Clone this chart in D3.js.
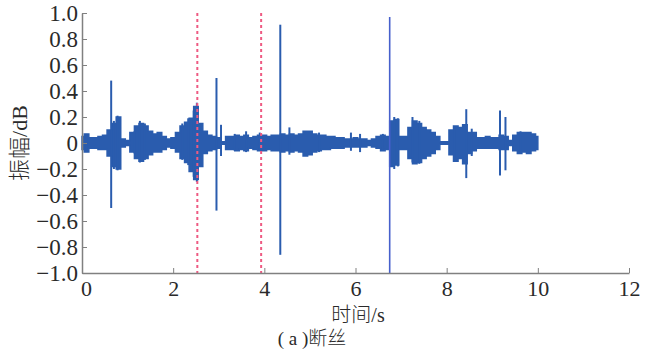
<!DOCTYPE html>
<html>
<head>
<meta charset="utf-8">
<script src="https://cdn.jsdelivr.net/npm/d3@7"></script>
<style>
  body { margin: 0; background: #fff; }
  .serif { font-family: "Liberation Serif", "Times New Roman", Tinos, "DejaVu Serif", serif; }
  .cjk { font-family: "Noto Sans CJK SC", "Noto Sans CJK JP", sans-serif; font-weight: 300; }
</style>
</head>
<body>
<div id="wrapper"></div>
<script>
const envTime = d3.range(0, 101).map(i => i / 10)
const envHigh = [
  0.05, 0.07, 0.04, 0.04, 0.05, 0.06, 0.10, 0.15, 0.20, 0.03,
  0.02, 0.08, 0.13, 0.15, 0.13, 0.09, 0.07, 0.08, 0.05, 0.03,
  0.04, 0.08, 0.13, 0.16, 0.19, 0.28, 0.15, 0.09, 0.06, 0.05,
  0.04, 0.01, 0.05, 0.05, 0.06, 0.05, 0.06, 0.04, 0.05, 0.06,
  0.06, 0.05, 0.06, 0.06, 0.07, 0.06, 0.07, 0.06, 0.07, 0.09,
  0.09, 0.07, 0.06, 0.06, 0.05, 0.05, 0.04, 0.04, 0.03, 0.03,
  0.04, 0.03, 0.03, 0.02, 0.03, 0.05, 0.06, 0.05, 0.17, 0.18,
  0.05, 0.05, 0.12, 0.17, 0.15, 0.12, 0.10, 0.08, 0.05, 0.01,
  0.01, 0.10, 0.13, 0.12, 0.14, 0.08, 0.08, 0.04, 0.04, 0.05,
  0.04, 0.04, 0.06, 0.05, 0.02, 0.06, 0.08, 0.08, 0.08, 0.07,
  0.05
]
const envLow = [
  -0.05, -0.07, -0.04, -0.04, -0.05, -0.05, -0.10, -0.18, -0.20, -0.03,
  -0.02, -0.07, -0.12, -0.14, -0.12, -0.09, -0.07, -0.07, -0.05, -0.03,
  -0.04, -0.07, -0.12, -0.15, -0.22, -0.28, -0.18, -0.08, -0.06, -0.05,
  -0.04, -0.01, -0.05, -0.05, -0.06, -0.05, -0.06, -0.04, -0.05, -0.06,
  -0.06, -0.05, -0.06, -0.06, -0.07, -0.06, -0.07, -0.06, -0.07, -0.10,
  -0.09, -0.07, -0.06, -0.05, -0.05, -0.04, -0.04, -0.04, -0.03, -0.03,
  -0.03, -0.03, -0.03, -0.02, -0.03, -0.04, -0.06, -0.05, -0.18, -0.17,
  -0.05, -0.05, -0.12, -0.16, -0.15, -0.12, -0.10, -0.08, -0.05, -0.01,
  -0.01, -0.09, -0.14, -0.12, -0.16, -0.08, -0.06, -0.04, -0.04, -0.04,
  -0.04, -0.04, -0.05, -0.05, -0.02, -0.06, -0.08, -0.07, -0.08, -0.06,
  -0.05
]

// isolated spikes: time, top, bottom
const spikeTime = [0.10, 0.64, 0.70, 0.78, 1.15, 1.27, 1.38, 2.20, 2.33, 2.45, 2.52, 2.95, 3.05, 3.35, 3.60, 3.90, 4.35, 4.55, 5.20, 5.90, 6.10, 6.60, 6.85, 6.93, 7.25, 7.40, 8.17, 8.43, 8.55, 9.17, 9.29, 9.62]
const spikeHigh = [0.07, 0.48, 0.17, 0.21, 0.09, 0.17, 0.15, 0.15, 0.19, 0.25, 0.31, 0.50, 0.14, 0.07, 0.09, 0.08, 0.91, 0.12, 0.08, 0.08, 0.07, 0.07, 0.20, 0.19, 0.20, 0.17, 0.13, 0.26, 0.11, 0.25, 0.20, 0.09]
const spikeLow  = [-0.07, -0.50, -0.20, -0.21, -0.08, -0.15, -0.13, -0.13, -0.17, -0.26, -0.30, -0.52, -0.10, -0.06, -0.07, -0.05, -0.86, -0.09, -0.07, -0.06, -0.07, -0.06, -0.20, -0.18, -0.15, -0.16, -0.12, -0.27, -0.10, -0.25, -0.21, -0.08]

// the tall thin one near 6.75 s
const bigSpikeTime = 6.75
const bigSpikeHigh = 0.97
const bigSpikeLow = -1.0

// red dashed markers
const markerTime = [2.53, 3.93]

const xTicks = [0, 2, 4, 6, 8, 10, 12]
const yTicks = [-1.0, -0.8, -0.6, -0.4, -0.2, 0, 0.2, 0.4, 0.6, 0.8, 1.0]

const dimensions = {
    width: 648,
    height: 351,
    margin: { top: 13, right: 19, bottom: 78, left: 82 },
}
dimensions.boundedWidth = dimensions.width - dimensions.margin.left - dimensions.margin.right
dimensions.boundedHeight = dimensions.height - dimensions.margin.top - dimensions.margin.bottom

const wrapper = d3.select("#wrapper")
    .append("svg")
    .attr("width", dimensions.width)
    .attr("height", dimensions.height)

const bounds = wrapper.append("g")
    .attr("transform", `translate(${dimensions.margin.left},${dimensions.margin.top})`)

const xScale = d3.scaleLinear()
    .domain([0, 12])
    .range([0, dimensions.boundedWidth])

const yScale = d3.scaleLinear()
    .domain([-1, 1])
    .range([dimensions.boundedHeight, 0])

const blue = "#2a5cae"

// waveform envelope
const envData = envTime.map((t, i) => ({ t, hi: envHigh[i], lo: envLow[i] }))
const area = d3.area()
    .x(d => xScale(d.t))
    .y0(d => yScale(d.lo))
    .y1(d => yScale(d.hi))
    .curve(d3.curveStep)

bounds.append("path")
    .datum(envData)
    .attr("d", area)
    .attr("fill", blue)
    .attr("stroke", blue)
    .attr("stroke-width", 1.5)

const spikes = spikeTime.map((t, i) => ({ t, hi: spikeHigh[i], lo: spikeLow[i] }))
bounds.append("g")
    .selectAll("line")
    .data(spikes)
    .join("line")
    .attr("x1", d => xScale(d.t))
    .attr("x2", d => xScale(d.t))
    .attr("y1", d => yScale(d.hi))
    .attr("y2", d => yScale(d.lo))
    .attr("stroke", blue)
    .attr("stroke-width", 2)

bounds.append("line")
    .attr("x1", xScale(bigSpikeTime))
    .attr("x2", xScale(bigSpikeTime))
    .attr("y1", yScale(bigSpikeHigh))
    .attr("y2", yScale(bigSpikeLow))
    .attr("stroke", "#4660cc")
    .attr("stroke-width", 1.6)

bounds.append("g")
    .selectAll("line")
    .data(markerTime)
    .join("line")
    .attr("x1", d => xScale(d))
    .attr("x2", d => xScale(d))
    .attr("y1", yScale(1))
    .attr("y2", yScale(-1))
    .attr("stroke", "#ee5a82")
    .attr("stroke-width", 2)
    .attr("stroke-dasharray", "3,3")

// axes, ticks pointing inward like matlab
const axisColor = "#808080"
const textColor = "#2a2a2a"

const xAxis = bounds.append("g")
    .attr("transform", `translate(0,${dimensions.boundedHeight})`)
    .call(d3.axisBottom(xScale).tickValues(xTicks).tickSize(-5).tickPadding(7).tickSizeOuter(0))
xAxis.attr("font-family", null).attr("font-size", null)
xAxis.select(".domain").attr("stroke", axisColor).attr("stroke-width", 1.5)
xAxis.selectAll(".tick line").attr("stroke", axisColor)
xAxis.selectAll(".tick text")
    .attr("class", "serif")
    .attr("fill", textColor)
    .attr("dx", d => d === 0 ? 4 : 0)
    .style("font-size", "22px")

const yAxis = bounds.append("g")
    .call(d3.axisLeft(yScale).tickValues(yTicks).tickSize(-5).tickPadding(4).tickSizeOuter(0)
        .tickFormat(d => d === 0 ? "0" : d3.format(".1f")(d).replace("-", "\u2013")))
yAxis.attr("font-family", null).attr("font-size", null)
yAxis.select(".domain").attr("stroke", axisColor).attr("stroke-width", 1.5)
yAxis.selectAll(".tick line").attr("stroke", axisColor)
yAxis.selectAll(".tick text")
    .attr("class", "serif")
    .attr("fill", textColor)
    .style("font-size", "23px")

// labels
const yLabel = wrapper.append("text")
    .attr("transform", `translate(27,${dimensions.margin.top + yScale(0)}) rotate(-90)`)
    .attr("text-anchor", "middle")
    .attr("fill", textColor)
    .style("font-size", "22px")
yLabel.append("tspan").attr("class", "cjk").text("振幅")
yLabel.append("tspan").attr("class", "serif").text("/dB")

const xLabel = wrapper.append("text")
    .attr("x", 358)
    .attr("y", 322)
    .attr("text-anchor", "middle")
    .attr("fill", textColor)
    .style("font-size", "20px")
xLabel.append("tspan").attr("class", "cjk").text("时间")
xLabel.append("tspan").attr("class", "serif").text("/s")

const caption = wrapper.append("text")
    .attr("x", 312)
    .attr("y", 345)
    .attr("text-anchor", "middle")
    .attr("fill", textColor)
    .style("font-size", "19px")
caption.append("tspan").attr("class", "serif").text("( a )")
caption.append("tspan").attr("class", "cjk").text("断丝")
</script>
</body>
</html>
